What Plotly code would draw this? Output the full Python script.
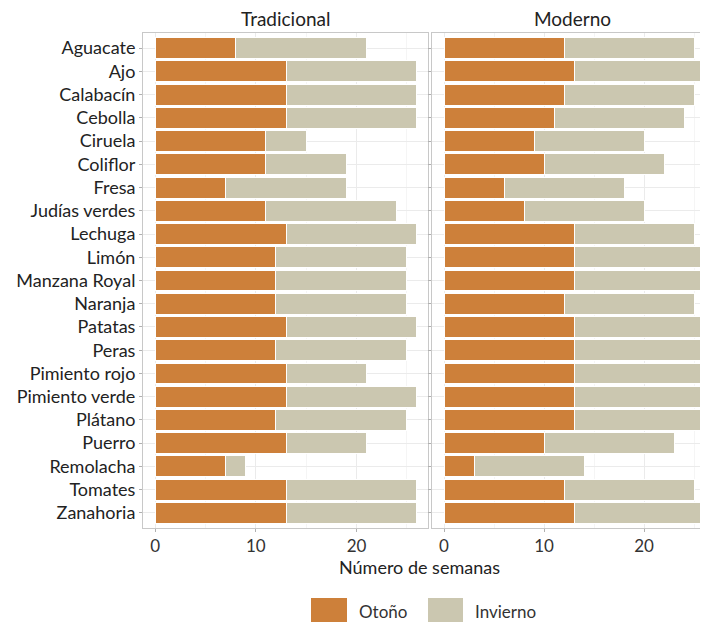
import plotly.graph_objects as go

categorias = ["Aguacate", "Ajo", "Calabacín", "Cebolla", "Ciruela", "Coliflor", "Fresa",
              "Judías verdes", "Lechuga", "Limón", "Manzana Royal", "Naranja", "Patatas",
              "Peras", "Pimiento rojo", "Pimiento verde", "Plátano", "Puerro", "Remolacha",
              "Tomates", "Zanahoria"]

trad_otono =    [8, 13, 13, 13, 11, 11, 7, 11, 13, 12, 12, 12, 13, 12, 13, 13, 12, 13, 7, 13, 13]
trad_invierno = [13, 13, 13, 13, 4, 8, 12, 13, 13, 13, 13, 13, 13, 13, 8, 13, 13, 8, 2, 13, 13]

mod_otono =     [12, 13, 12, 11, 9, 10, 6, 8, 13, 13, 13, 12, 13, 13, 13, 13, 13, 10, 3, 12, 13]
mod_invierno =  [13, 13, 13, 13, 11, 12, 12, 12, 12, 13, 13, 13, 13, 13, 13, 13, 13, 13, 11, 13, 13]

x_ticks = [0, 10, 20]
paneles = ["Tradicional", "Moderno"]
series = ["Otoño", "Invierno"]

COL_OTONO = "#CD803A"
COL_INV = "#CBC7B0"
FONT = "Lato"

W, H = 700, 614   # page adds an 8px body margin
OFF = 8

fig = go.Figure()
datos = [(trad_otono, trad_invierno, "x", "y"), (mod_otono, mod_invierno, "x2", "y2")]
for i, (ot, inv, xa, ya) in enumerate(datos):
    for nombre, vals, col in [(series[0], ot, COL_OTONO), (series[1], inv, COL_INV)]:
        fig.add_trace(go.Bar(
            y=categorias, x=vals, orientation="h", name=nombre,
            marker=dict(color=col, line=dict(color="white", width=1)),
            width=0.9, xaxis=xa, yaxis=ya, showlegend=False,
        ))

grid_c = "#EBEBEB"
xcommon = dict(
    tickvals=x_ticks, ticks="outside", ticklen=3, tickcolor="#B0B0B0",
    showgrid=True, gridcolor=grid_c, gridwidth=1,
    minor=dict(dtick=5, showgrid=True, gridcolor="#F5F5F5", gridwidth=1),
    zeroline=False, showline=True, linecolor="#C8C8C8", linewidth=1, mirror=True,
    tickfont=dict(family=FONT, size=17, color="#333333"), automargin=False,
)
ycommon = dict(
    categoryorder="array", categoryarray=categorias,
    range=[20.65, -0.65], showgrid=True, gridcolor=grid_c,
    ticks="outside", ticklen=3, tickcolor="#B0B0B0",
    zeroline=False, showline=True, linecolor="#C8C8C8", linewidth=1, mirror=True,
    tickfont=dict(family=FONT, size=18, color="#222222"), automargin=False,
)

def px_x(p):
    return (p - OFF) / W

def px_y(p):
    return (528.0 - p) / 495.0

fig.update_layout(
    barmode="stack",
    width=W, height=H,
    margin=dict(l=0, r=0, t=33 - OFF, b=H - (528 - OFF), autoexpand=False),
    plot_bgcolor="white", paper_bgcolor="white",
    font=dict(family=FONT, color="#222222"),
    xaxis=dict(domain=[px_x(143), px_x(428)], range=[-1.2, 27.1], **xcommon),
    xaxis2=dict(domain=[px_x(432), 1.0], range=[-1.2, 26.4], **xcommon),
    yaxis=dict(anchor="x", **ycommon),
    yaxis2=dict(anchor="x2", showticklabels=False, **ycommon),
    showlegend=False,
    bargap=0.1,
)

fig.add_annotation(text=paneles[0], x=px_x(285), y=px_y(18), xref="paper", yref="paper",
                   xanchor="center", yanchor="middle", showarrow=False,
                   font=dict(family=FONT, size=19, color="#222222"))
fig.add_annotation(text=paneles[1], x=px_x(572), y=px_y(18), xref="paper", yref="paper",
                   xanchor="center", yanchor="middle", showarrow=False,
                   font=dict(family=FONT, size=19, color="#222222"))
fig.add_annotation(text="Número de semanas", x=px_x(420), y=px_y(567), xref="paper", yref="paper",
                   xanchor="center", yanchor="middle", showarrow=False,
                   font=dict(family=FONT, size=18, color="#222222"))

leyenda = [(series[0], COL_OTONO, 311, 347, 357), (series[1], COL_INV, 428, 463, 473)]
for nombre, col, x0, x1, xt in leyenda:
    fig.add_shape(type="rect", xref="paper", yref="paper",
                  x0=px_x(x0), x1=px_x(x1), y0=px_y(622), y1=px_y(598),
                  fillcolor=col, line=dict(width=0))
    fig.add_annotation(text=nombre, x=px_x(xt), y=px_y(611), xref="paper", yref="paper",
                       xanchor="left", yanchor="middle", showarrow=False,
                       font=dict(family=FONT, size=17, color="#333333"))

fig.write_html("out.html")
